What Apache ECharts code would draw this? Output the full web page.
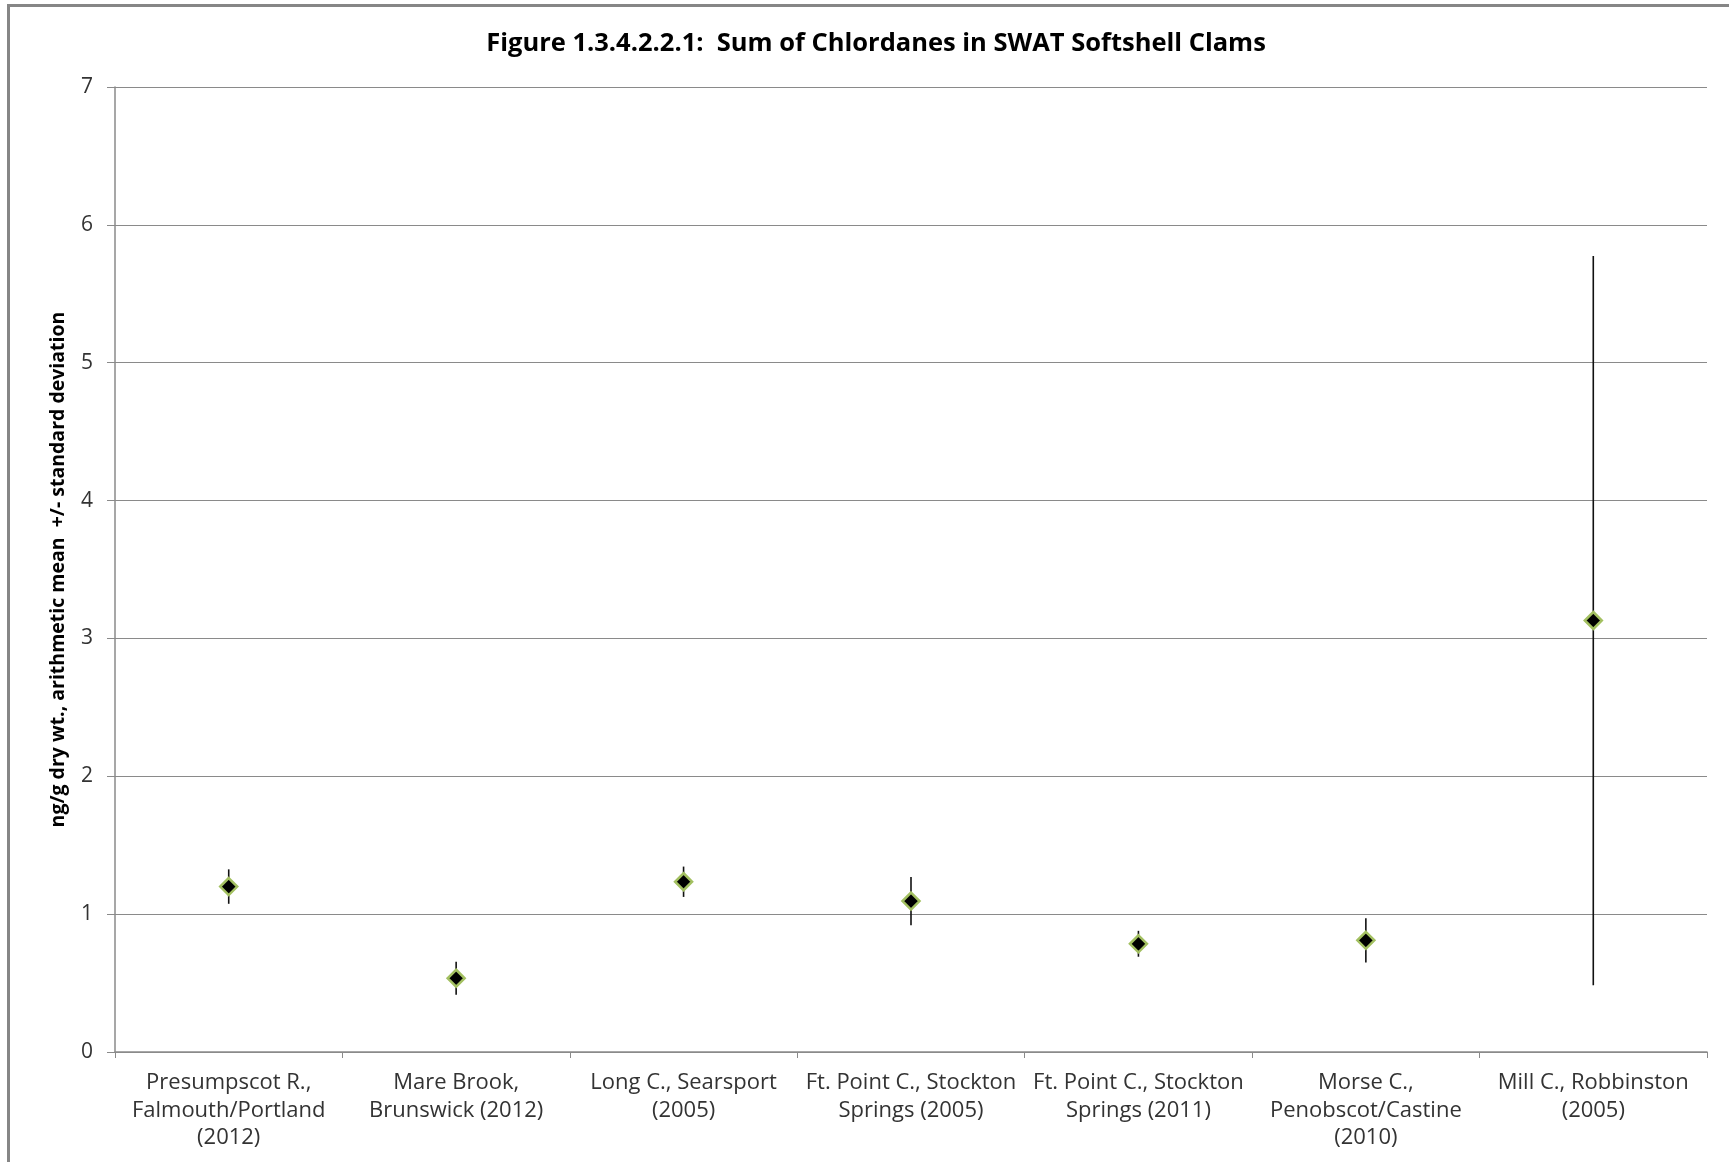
<!DOCTYPE html>
<html>
<head>
<meta charset="utf-8">
<script src="https://cdn.jsdelivr.net/npm/echarts@6/dist/echarts.min.js"></script>
<style>
html,body{margin:0;padding:0;background:#fff;}
#chart{width:1729px;height:1162px;}
</style>
</head>
<body>
<div id="chart"></div>
<script>
const categories = [
  "Presumpscot R.,\nFalmouth/Portland\n(2012)",
  "Mare Brook,\nBrunswick (2012)",
  "Long C., Searsport\n(2005)",
  "Ft. Point C., Stockton\nSprings (2005)",
  "Ft. Point C., Stockton\nSprings (2011)",
  "Morse C.,\nPenobscot/Castine\n(2010)",
  "Mill C., Robbinston\n(2005)"
];
const means = [1.20, 0.535, 1.235, 1.095, 0.785, 0.81, 3.13];
const stdDevs = [0.125, 0.12, 0.11, 0.175, 0.094, 0.16, 2.645];
const yTicks = [0, 1, 2, 3, 4, 5, 6, 7];

const FONT = '"Open Sans", Lato, sans-serif';
const chart = echarts.init(document.getElementById('chart'), null, {renderer: 'canvas'});

const errData = means.map((m, i) => [i, m - stdDevs[i], m + stdDevs[i]]);

chart.setOption({
  backgroundColor: '#ffffff',
  animation: false,
  title: {
    text: 'Figure 1.3.4.2.2.1:  Sum of Chlordanes in SWAT Softshell Clams',
    left: 871, top: 26, textAlign: 'center',
    textStyle: {fontFamily: FONT, fontWeight: 'bold', fontSize: 25.5, color: '#000'}
  },
  graphic: [{
    type: 'rect', silent: true, z: 100,
    shape: {x: 8.5, y: 5.5, width: 1800, height: 1300},
    style: {fill: 'none', stroke: '#868686', lineWidth: 3}
  }],
  grid: {left: 115, right: 22, top: 87, bottom: 110},
  xAxis: {
    type: 'category',
    data: categories,
    boundaryGap: true,
    axisLine: {show: true, lineStyle: {color: '#8a8a8a', width: 1.5}},
    axisTick: {show: true, length: 6, interval: 0, lineStyle: {color: '#8a8a8a'}},
    axisLabel: {interval: 0, margin: 17, fontFamily: FONT, fontSize: 22, color: '#333', lineHeight: 27.5},
    splitLine: {show: false}
  },
  yAxis: {
    type: 'value',
    min: yTicks[0], max: yTicks[yTicks.length - 1], interval: 1,
    name: 'ng/g dry wt., arithmetic mean  +/- standard deviation',
    nameLocation: 'middle', nameGap: 47, nameRotate: 90,
    nameTextStyle: {fontFamily: FONT, fontWeight: 'bold', fontSize: 19.5, color: '#000'},
    axisLine: {show: true, lineStyle: {color: '#8a8a8a', width: 1.5}},
    axisTick: {show: true, length: 8, lineStyle: {color: '#8a8a8a'}},
    axisLabel: {margin: 22, fontFamily: FONT, fontSize: 21, color: '#333'},
    splitLine: {show: true, lineStyle: {color: '#8a8a8a', width: 1}}
  },
  series: [
    {
      type: 'custom',
      name: 'sd',
      z: 2,
      data: errData,
      encode: {x: 0, y: [1, 2]},
      renderItem: function (params, api) {
        const x = api.value(0);
        const lo = api.coord([x, api.value(1)]);
        const hi = api.coord([x, api.value(2)]);
        return {
          type: 'line',
          shape: {x1: lo[0], y1: lo[1], x2: hi[0], y2: hi[1]},
          style: {stroke: '#111', lineWidth: 1.6}
        };
      }
    },
    {
      type: 'scatter',
      name: 'mean',
      z: 3,
      data: means.map((m, i) => [i, m]),
      symbol: 'diamond',
      symbolSize: 17,
      itemStyle: {color: '#000', borderColor: '#a3c061', borderWidth: 2.5, opacity: 1}
    }
  ]
});
</script>
</body>
</html>
